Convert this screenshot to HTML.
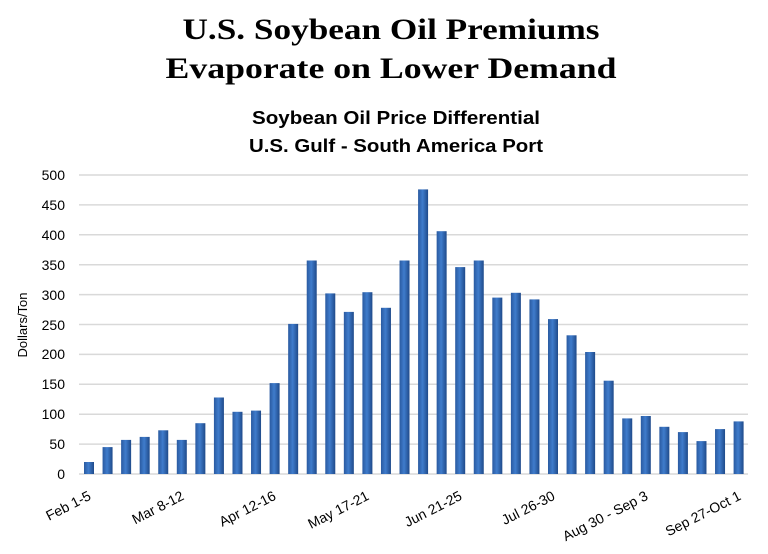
<!DOCTYPE html>
<html><head><meta charset="utf-8"><style>
html,body{margin:0;padding:0;background:#fff;}
svg{display:block;}
</style></head><body>
<svg width="768" height="554" viewBox="0 0 768 554" xmlns="http://www.w3.org/2000/svg">
<defs>
<linearGradient id="g" x1="0" x2="1" y1="0" y2="0">
<stop offset="0" stop-color="#2a5aa0"/>
<stop offset="0.45" stop-color="#3f7ccc"/>
<stop offset="1" stop-color="#1f4a8a"/>
</linearGradient>
</defs>
<g font-family="Liberation Serif, serif" font-weight="bold" fill="#000" text-anchor="middle">
<text x="391" y="39" font-size="30" textLength="417" lengthAdjust="spacingAndGlyphs">U.S. Soybean Oil Premiums</text>
<text x="391" y="78" font-size="30" textLength="451" lengthAdjust="spacingAndGlyphs">Evaporate on Lower Demand</text>
</g>
<g font-family="Liberation Sans, sans-serif" font-weight="bold" fill="#000" text-anchor="middle">
<text x="396" y="124" font-size="18" textLength="288" lengthAdjust="spacingAndGlyphs">Soybean Oil Price Differential</text>
<text x="396" y="152" font-size="18" textLength="294" lengthAdjust="spacingAndGlyphs">U.S. Gulf - South America Port</text>
</g>
<g stroke="#d9d9d9" stroke-width="1.5">
<line x1="79" x2="748" y1="474" y2="474"/>
<line x1="79" x2="748" y1="444.1" y2="444.1"/>
<line x1="79" x2="748" y1="414.2" y2="414.2"/>
<line x1="79" x2="748" y1="384.3" y2="384.3"/>
<line x1="79" x2="748" y1="354.4" y2="354.4"/>
<line x1="79" x2="748" y1="324.5" y2="324.5"/>
<line x1="79" x2="748" y1="294.6" y2="294.6"/>
<line x1="79" x2="748" y1="264.7" y2="264.7"/>
<line x1="79" x2="748" y1="234.8" y2="234.8"/>
<line x1="79" x2="748" y1="204.9" y2="204.9"/>
<line x1="79" x2="748" y1="175" y2="175"/>
</g>
<g font-family="Liberation Sans, sans-serif" font-size="14" fill="#000" text-anchor="end">
<text x="65" y="479">0</text>
<text x="65" y="449">50</text>
<text x="65" y="419">100</text>
<text x="65" y="389">150</text>
<text x="65" y="359">200</text>
<text x="65" y="330">250</text>
<text x="65" y="300">300</text>
<text x="65" y="270">350</text>
<text x="65" y="240">400</text>
<text x="65" y="210">450</text>
<text x="65" y="180">500</text>
</g>
<text x="27" y="325" font-family="Liberation Sans, sans-serif" font-size="13" transform="rotate(-90 27 325)" text-anchor="middle">Dollars/Ton</text>
<g fill="url(#g)">
<rect x="84" y="462.0" width="10" height="12.0"/>
<rect x="102.56" y="447.1" width="10" height="26.9"/>
<rect x="121.12" y="439.9" width="10" height="34.1"/>
<rect x="139.68" y="436.9" width="10" height="37.1"/>
<rect x="158.24" y="430.3" width="10" height="43.7"/>
<rect x="176.8" y="439.9" width="10" height="34.1"/>
<rect x="195.36" y="423.2" width="10" height="50.8"/>
<rect x="213.92" y="397.5" width="10" height="76.5"/>
<rect x="232.48" y="411.8" width="10" height="62.2"/>
<rect x="251.04" y="410.6" width="10" height="63.4"/>
<rect x="269.6" y="383.1" width="10" height="90.9"/>
<rect x="288.16" y="323.9" width="10" height="150.1"/>
<rect x="306.72" y="260.5" width="10" height="213.5"/>
<rect x="325.28" y="293.4" width="10" height="180.6"/>
<rect x="343.84" y="311.9" width="10" height="162.1"/>
<rect x="362.4" y="292.2" width="10" height="181.8"/>
<rect x="380.96" y="307.8" width="10" height="166.2"/>
<rect x="399.52" y="260.5" width="10" height="213.5"/>
<rect x="418.08" y="189.4" width="10" height="284.6"/>
<rect x="436.64" y="231.2" width="10" height="242.8"/>
<rect x="455.2" y="267.1" width="10" height="206.9"/>
<rect x="473.76" y="260.5" width="10" height="213.5"/>
<rect x="492.32" y="297.6" width="10" height="176.4"/>
<rect x="510.88" y="292.8" width="10" height="181.2"/>
<rect x="529.44" y="299.4" width="10" height="174.6"/>
<rect x="548.0" y="319.1" width="10" height="154.9"/>
<rect x="566.56" y="335.3" width="10" height="138.7"/>
<rect x="585.12" y="352.0" width="10" height="122.0"/>
<rect x="603.68" y="380.7" width="10" height="93.3"/>
<rect x="622.24" y="418.4" width="10" height="55.6"/>
<rect x="640.8" y="416.0" width="10" height="58.0"/>
<rect x="659.36" y="426.8" width="10" height="47.2"/>
<rect x="677.92" y="432.1" width="10" height="41.9"/>
<rect x="696.48" y="441.1" width="10" height="32.9"/>
<rect x="715.04" y="429.1" width="10" height="44.9"/>
<rect x="733.6" y="421.4" width="10" height="52.6"/>
</g>
<g font-family="Liberation Sans, sans-serif" font-size="14" fill="#000" text-anchor="end">
<text x="92" y="499" transform="rotate(-27 92 499)">Feb 1-5</text>
<text x="185" y="499" transform="rotate(-27 185 499)">Mar 8-12</text>
<text x="277" y="499" transform="rotate(-27 277 499)">Apr 12-16</text>
<text x="370" y="499" transform="rotate(-27 370 499)">May 17-21</text>
<text x="463" y="499" transform="rotate(-27 463 499)">Jun 21-25</text>
<text x="556" y="499" transform="rotate(-27 556 499)">Jul 26-30</text>
<text x="649" y="499" transform="rotate(-27 649 499)">Aug 30 - Sep 3</text>
<text x="742" y="499" transform="rotate(-27 742 499)">Sep 27-Oct 1</text>
</g>
</svg>
</body></html>
